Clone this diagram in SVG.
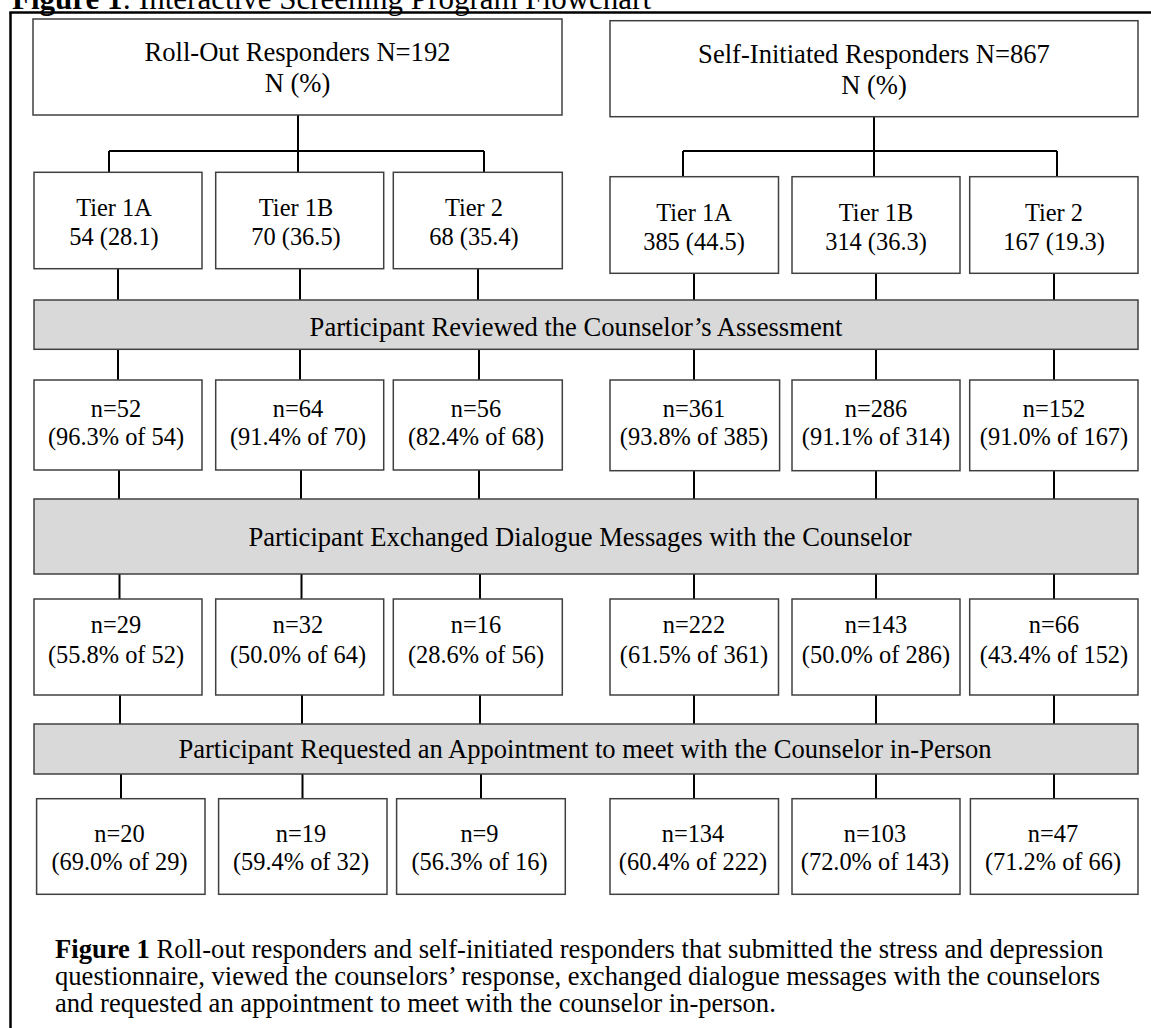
<svg xmlns="http://www.w3.org/2000/svg" width="1151" height="1028" viewBox="0 0 1151 1028">
<defs>
<style>
.bg{fill:#ffffff}
.box{fill:#ffffff;stroke:#404040;stroke-width:1.5}
.bar{fill:#d9d9d9;stroke:#404040;stroke-width:1.5}
.conn line{stroke:#000000;stroke-width:2}
.frame{stroke:#000000;stroke-width:2.5}
text{font-family:"Liberation Serif","Times New Roman",serif;fill:#000000}
.t{font-size:24.4px;text-anchor:middle}
.big{font-size:26.6px;text-anchor:middle}
.cap{font-size:26.6px}
.title{font-size:31px}
</style>
</defs>
<rect class="bg" x="0" y="0" width="1151" height="1028"/>

<text class="title" x="12" y="9"><tspan font-weight="bold">Figure 1</tspan>: Interactive Screening Program Flowchart</text>
<g id="frame">
<line class="frame" x1="10.5" y1="12.5" x2="10.5" y2="1028"/>
<line class="frame" x1="9.3" y1="12.5" x2="1151" y2="12.5"/>
</g>

<g class="conn" id="connectors">
<line x1="298" y1="115" x2="298" y2="172"/>
<line x1="109" y1="151" x2="484" y2="151"/>
<line x1="109" y1="151" x2="109" y2="172"/>
<line x1="484" y1="151" x2="484" y2="172"/>
<line x1="874" y1="117" x2="874" y2="177"/>
<line x1="683" y1="151" x2="1057" y2="151"/>
<line x1="683" y1="151" x2="683" y2="177"/>
<line x1="1057" y1="151" x2="1057" y2="177"/>

<line x1="118" y1="269" x2="118" y2="300"/>
<line x1="300" y1="269" x2="300" y2="300"/>
<line x1="478" y1="269" x2="478" y2="300"/>
<line x1="694" y1="273" x2="694" y2="300"/>
<line x1="876" y1="273" x2="876" y2="300"/>
<line x1="1054" y1="273" x2="1054" y2="300"/>

<line x1="118" y1="349" x2="118" y2="380"/>
<line x1="300" y1="349" x2="300" y2="380"/>
<line x1="479" y1="349" x2="479" y2="380"/>
<line x1="694" y1="349" x2="694" y2="380"/>
<line x1="876" y1="349" x2="876" y2="380"/>
<line x1="1054" y1="349" x2="1054" y2="380"/>

<line x1="119" y1="470" x2="119" y2="499"/>
<line x1="301" y1="470" x2="301" y2="499"/>
<line x1="479" y1="470" x2="479" y2="499"/>
<line x1="694" y1="470" x2="694" y2="499"/>
<line x1="876" y1="470" x2="876" y2="499"/>
<line x1="1054" y1="470" x2="1054" y2="499"/>

<line x1="119.5" y1="574" x2="119.5" y2="599"/>
<line x1="301.5" y1="574" x2="301.5" y2="599"/>
<line x1="480" y1="574" x2="480" y2="599"/>
<line x1="694" y1="574" x2="694" y2="599"/>
<line x1="876" y1="574" x2="876" y2="599"/>
<line x1="1054" y1="574" x2="1054" y2="599"/>

<line x1="120" y1="695" x2="120" y2="724"/>
<line x1="302" y1="695" x2="302" y2="724"/>
<line x1="480" y1="695" x2="480" y2="724"/>
<line x1="694" y1="695" x2="694" y2="724"/>
<line x1="876" y1="695" x2="876" y2="724"/>
<line x1="1054" y1="695" x2="1054" y2="724"/>

<line x1="121" y1="774" x2="121" y2="799"/>
<line x1="302.5" y1="774" x2="302.5" y2="799"/>
<line x1="481" y1="774" x2="481" y2="799"/>
<line x1="694" y1="774" x2="694" y2="799"/>
<line x1="876" y1="774" x2="876" y2="799"/>
<line x1="1054" y1="774" x2="1054" y2="799"/>
</g>

<g id="rollout">
<rect class="box" x="33" y="19" width="529" height="96"/>
<text class="big" x="297.5" y="61">Roll-Out Responders N=192</text>
<text class="big" x="297.5" y="92">N (%)</text>
</g>
<g id="selfinit">
<rect class="box" x="610" y="20.7" width="528" height="96"/>
<text class="big" x="874" y="63">Self-Initiated Responders N=867</text>
<text class="big" x="874" y="94">N (%)</text>
</g>

<g id="ro-tier1a"><rect class="box" x="34" y="172.3" width="168" height="96.4"/><text class="t" x="114" y="216">Tier 1A</text><text class="t" x="114" y="245">54 (28.1)</text></g>
<g id="ro-tier1b"><rect class="box" x="215.7" y="172.3" width="168" height="96.4"/><text class="t" x="296" y="216">Tier 1B</text><text class="t" x="296" y="245">70 (36.5)</text></g>
<g id="ro-tier2"><rect class="box" x="393.3" y="172.3" width="169" height="96.4"/><text class="t" x="474" y="216">Tier 2</text><text class="t" x="474" y="245">68 (35.4)</text></g>
<g id="si-tier1a"><rect class="box" x="610" y="176.7" width="168.5" height="96.6"/><text class="t" x="694" y="221">Tier 1A</text><text class="t" x="694" y="250">385 (44.5)</text></g>
<g id="si-tier1b"><rect class="box" x="792" y="176.7" width="168" height="96.6"/><text class="t" x="876" y="221">Tier 1B</text><text class="t" x="876" y="250">314 (36.3)</text></g>
<g id="si-tier2"><rect class="box" x="969.7" y="176.7" width="168.3" height="96.6"/><text class="t" x="1054" y="221">Tier 2</text><text class="t" x="1054" y="250">167 (19.3)</text></g>

<g id="bar-reviewed"><rect class="bar" x="34" y="300" width="1104" height="49.3"/><text class="big" x="576" y="336">Participant Reviewed the Counselor’s Assessment</text></g>

<g id="r2-1"><rect class="box" x="34" y="380" width="168" height="90"/><text class="t" x="116" y="416.7">n=52</text><text class="t" x="116" y="445">(96.3% of 54)</text></g>
<g id="r2-2"><rect class="box" x="215.7" y="380" width="168" height="90"/><text class="t" x="298" y="416.7">n=64</text><text class="t" x="298" y="445">(91.4% of 70)</text></g>
<g id="r2-3"><rect class="box" x="393.3" y="380" width="169" height="90"/><text class="t" x="476" y="416.7">n=56</text><text class="t" x="476" y="445">(82.4% of 68)</text></g>
<g id="r2-4"><rect class="box" x="610" y="380" width="169.6" height="90.7"/><text class="t" x="694" y="416.7">n=361</text><text class="t" x="694" y="445">(93.8% of 385)</text></g>
<g id="r2-5"><rect class="box" x="792" y="380" width="168" height="90.7"/><text class="t" x="876" y="416.7">n=286</text><text class="t" x="876" y="445">(91.1% of 314)</text></g>
<g id="r2-6"><rect class="box" x="969.7" y="380" width="168.3" height="90.7"/><text class="t" x="1054" y="416.7">n=152</text><text class="t" x="1054" y="445">(91.0% of 167)</text></g>

<g id="bar-dialogue"><rect class="bar" x="34" y="499" width="1104" height="75"/><text class="big" x="580" y="545.5">Participant Exchanged Dialogue Messages with the Counselor</text></g>

<g id="r3-1"><rect class="box" x="34" y="599" width="168" height="96"/><text class="t" x="116" y="633">n=29</text><text class="t" x="116" y="663">(55.8% of 52)</text></g>
<g id="r3-2"><rect class="box" x="215.7" y="599" width="168" height="96"/><text class="t" x="298" y="633">n=32</text><text class="t" x="298" y="663">(50.0% of 64)</text></g>
<g id="r3-3"><rect class="box" x="393.3" y="599" width="169" height="96"/><text class="t" x="476" y="633">n=16</text><text class="t" x="476" y="663">(28.6% of 56)</text></g>
<g id="r3-4"><rect class="box" x="610" y="599" width="168.5" height="96"/><text class="t" x="694" y="633">n=222</text><text class="t" x="694" y="663">(61.5% of 361)</text></g>
<g id="r3-5"><rect class="box" x="792" y="599" width="168" height="96"/><text class="t" x="876" y="633">n=143</text><text class="t" x="876" y="663">(50.0% of 286)</text></g>
<g id="r3-6"><rect class="box" x="969.7" y="599" width="168.3" height="96"/><text class="t" x="1054" y="633">n=66</text><text class="t" x="1054" y="663">(43.4% of 152)</text></g>

<g id="bar-appointment"><rect class="bar" x="34" y="724" width="1104" height="50"/><text class="big" x="585" y="758.3">Participant Requested an Appointment to meet with the Counselor in-Person</text></g>

<g id="r4-1"><rect class="box" x="36.6" y="798.7" width="168.4" height="95.6"/><text class="t" x="119.5" y="842">n=20</text><text class="t" x="119.5" y="870">(69.0% of 29)</text></g>
<g id="r4-2"><rect class="box" x="218.6" y="798.7" width="168.4" height="95.6"/><text class="t" x="301" y="842">n=19</text><text class="t" x="301" y="870">(59.4% of 32)</text></g>
<g id="r4-3"><rect class="box" x="396.6" y="798.7" width="168.7" height="95.6"/><text class="t" x="479.5" y="842">n=9</text><text class="t" x="479.5" y="870">(56.3% of 16)</text></g>
<g id="r4-4"><rect class="box" x="610" y="798.7" width="168.5" height="95.6"/><text class="t" x="693" y="842">n=134</text><text class="t" x="693" y="870">(60.4% of 222)</text></g>
<g id="r4-5"><rect class="box" x="792" y="798.7" width="168" height="95.6"/><text class="t" x="875" y="842">n=103</text><text class="t" x="875" y="870">(72.0% of 143)</text></g>
<g id="r4-6"><rect class="box" x="970.4" y="798.7" width="167.6" height="95.6"/><text class="t" x="1053" y="842">n=47</text><text class="t" x="1053" y="870">(71.2% of 66)</text></g>

<g id="caption">
<text class="cap" x="55" y="958"><tspan font-weight="bold">Figure 1</tspan> Roll-out responders and self-initiated responders that submitted the stress and depression</text>
<text class="cap" x="55" y="985">questionnaire, viewed the counselors’ response, exchanged dialogue messages with the counselors</text>
<text class="cap" x="55" y="1012">and requested an appointment to meet with the counselor in-person.</text>
</g>
</svg>
